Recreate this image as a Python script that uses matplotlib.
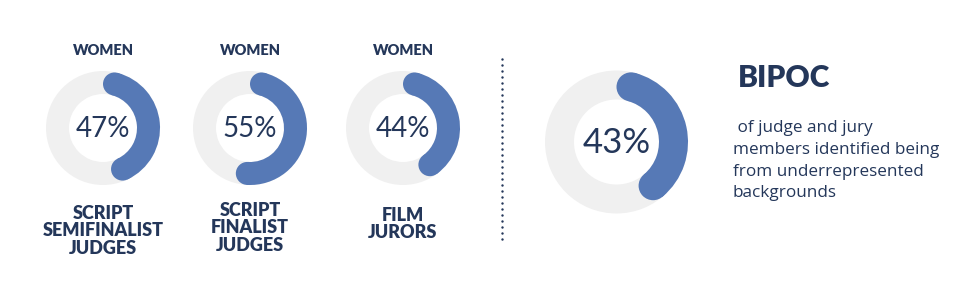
import numpy as np
import matplotlib.pyplot as plt
from matplotlib.patches import Wedge, Circle

# data
top_labels = ["WOMEN", "WOMEN", "WOMEN"]
women_pct = [47, 55, 44]
bottom_labels = ["SCRIPT\nSEMIFINALIST\nJUDGES", "SCRIPT\nFINALIST\nJUDGES", "FILM\nJURORS"]
bipoc_pct = 43
bipoc_title = "BIPOC"
bipoc_text = " of judge and jury\nmembers identified being\nfrom underrepresented\nbackgrounds"

# layout (pixels)
small_x = [103, 250, 403]
small_y = 128
small_ro, small_ri = 57, 34
label_y = [205, 202, 207]
big_x, big_y = 616.5, 142
big_ro, big_ri = 71.5, 42.5

NAVY = "#24375a"
BLUE = "#5679b6"
GRAY = "#f0f0f0"


def donut(ax, cx, cy, ro, ri, pct):
    w = ro - ri
    rm = (ro + ri) / 2
    ax.add_patch(Wedge((cx, cy), ro, 0, 360, width=w, color=GRAY, lw=0))
    d = np.degrees(np.arcsin(w / 2 / rm))
    start = d
    end = pct / 100 * 360 - d
    ax.add_patch(Wedge((cx, cy), ro, start - 90, end - 90, width=w, color=BLUE, lw=0))
    for c in (start, end):
        a = np.radians(c - 90)
        ax.add_patch(Circle((cx + rm * np.cos(a), cy + rm * np.sin(a)), w / 2, color=BLUE, lw=0))


fig = plt.figure(figsize=(9.7, 3), dpi=100)
ax = fig.add_axes([0, 0, 1, 1])
ax.set_xlim(0, 970)
ax.set_ylim(300, 0)
ax.set_aspect("equal")
ax.axis("off")

for i in range(3):
    donut(ax, small_x[i], small_y, small_ro, small_ri, women_pct[i])
    ax.text(small_x[i], 50.5, top_labels[i], ha="center", va="center", color=NAVY,
            fontsize=10.5, fontweight="heavy", family="Lato")
    ax.text(small_x[i], small_y + 1, f"{women_pct[i]}%", ha="center", va="center", color=NAVY,
            fontsize=20, fontweight="normal", family="Lato")
    ax.text(small_x[i], label_y[i], bottom_labels[i], ha="center", va="top", color=NAVY,
            fontsize=13, fontweight="heavy", family="Lato", linespacing=1.03)

donut(ax, big_x, big_y, big_ro, big_ri, bipoc_pct)
ax.text(big_x, big_y + 1, f"{bipoc_pct}%", ha="center", va="center", color=NAVY,
        fontsize=25, fontweight="normal", family="Lato")

dots = np.arange(59, 240, 6)
ax.scatter(np.full(len(dots), 502), dots, s=3, color=NAVY, lw=0)

ax.text(738, 78, bipoc_title, ha="left", va="center", color=NAVY,
        fontsize=21.5, fontweight="heavy", family="Lato")
ax.text(733, 120.5, bipoc_text, ha="left", va="top", color=NAVY,
        fontsize=12.3, family="Open Sans", linespacing=1.47)

fig.savefig("out.png", dpi=100)
